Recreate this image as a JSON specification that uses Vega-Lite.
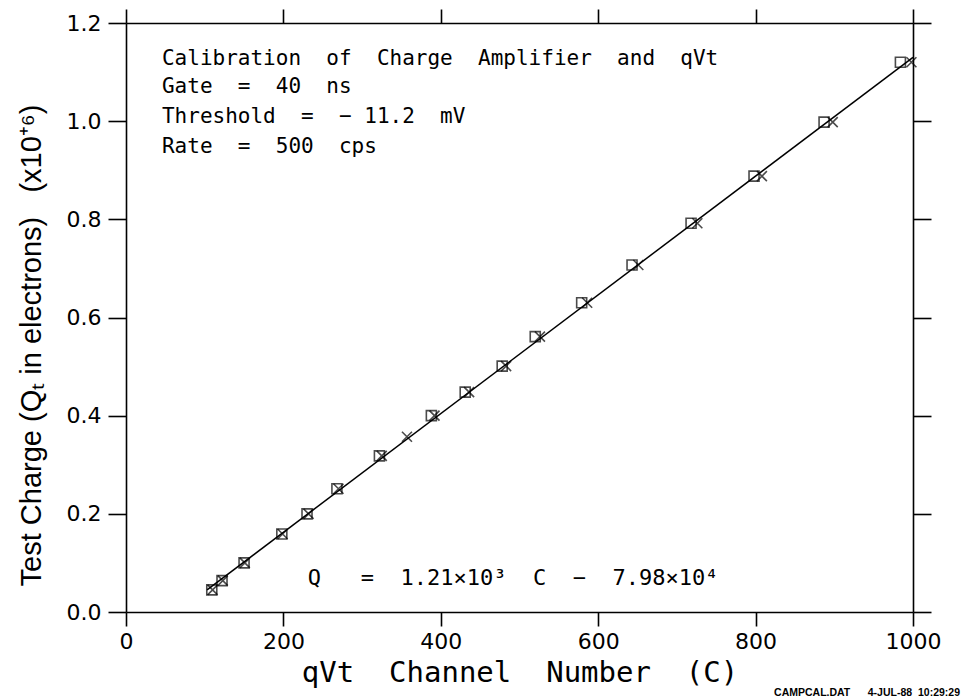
{
  "$schema": "https://vega.github.io/schema/vega-lite/v6.json",
  "width": 787,
  "height": 589,
  "autosize": {"type": "none"},
  "padding": {"left": 126, "top": 23, "right": 51, "bottom": 87},
  "background": "white",
  "config": {
    "view": {"stroke": null},
    "axis": {
      "grid": false,
      "domainColor": "black",
      "domainWidth": 1.6,
      "tickColor": "black",
      "tickWidth": 1.6,
      "labelColor": "black",
      "labelFont": "DejaVu Sans",
      "labelFontSize": 22,
      "titleColor": "black"
    },
    "title": {"color": "black"}
  },
  "title": {
    "text": "CAMPCAL.DAT\u00a0\u00a0\u00a0\u00a0\u00a0\u00a04-JUL-88\u00a0\u00a010:29:29",
    "orient": "bottom",
    "anchor": "end",
    "frame": "group",
    "font": "Liberation Sans",
    "fontSize": 10.5,
    "fontWeight": "bold",
    "dx": 47,
    "offset": 1
  },
  "datasets": {
    "fit": [
      {"C": 103, "Q": 0.045},
      {"C": 1000, "Q": 1.13}
    ],
    "points": [
      {"C": 109, "Q": 0.045, "series": "sq"},
      {"C": 122, "Q": 0.064, "series": "sq"},
      {"C": 150, "Q": 0.100, "series": "sq"},
      {"C": 198, "Q": 0.159, "series": "sq"},
      {"C": 230, "Q": 0.200, "series": "sq"},
      {"C": 268, "Q": 0.251, "series": "sq"},
      {"C": 322, "Q": 0.318, "series": "sq"},
      {"C": 388, "Q": 0.400, "series": "sq"},
      {"C": 431, "Q": 0.448, "series": "sq"},
      {"C": 478, "Q": 0.501, "series": "sq"},
      {"C": 520, "Q": 0.561, "series": "sq"},
      {"C": 579, "Q": 0.630, "series": "sq"},
      {"C": 643, "Q": 0.707, "series": "sq"},
      {"C": 718, "Q": 0.792, "series": "sq"},
      {"C": 798, "Q": 0.888, "series": "sq"},
      {"C": 887, "Q": 0.998, "series": "sq"},
      {"C": 984, "Q": 1.120, "series": "sq"},
      {"C": 110, "Q": 0.045, "series": "x"},
      {"C": 123, "Q": 0.064, "series": "x"},
      {"C": 151, "Q": 0.100, "series": "x"},
      {"C": 199, "Q": 0.159, "series": "x"},
      {"C": 232, "Q": 0.200, "series": "x"},
      {"C": 270, "Q": 0.251, "series": "x"},
      {"C": 325, "Q": 0.318, "series": "x"},
      {"C": 357, "Q": 0.357, "series": "x"},
      {"C": 392, "Q": 0.400, "series": "x"},
      {"C": 436, "Q": 0.448, "series": "x"},
      {"C": 483, "Q": 0.501, "series": "x"},
      {"C": 526, "Q": 0.561, "series": "x"},
      {"C": 586, "Q": 0.630, "series": "x"},
      {"C": 651, "Q": 0.707, "series": "x"},
      {"C": 726, "Q": 0.792, "series": "x"},
      {"C": 808, "Q": 0.888, "series": "x"},
      {"C": 898, "Q": 0.998, "series": "x"},
      {"C": 998, "Q": 1.120, "series": "x"}
    ],
    "notes": [
      {"C": 45.7, "Q": 1.1144, "size": 21, "label": "Calibration\u00a0 of\u00a0 Charge\u00a0 Amplifier\u00a0 and\u00a0 qVt"},
      {"C": 45.7, "Q": 1.0574, "size": 21, "label": "Gate\u00a0 =\u00a0 40\u00a0 ns"},
      {"C": 45.7, "Q": 0.9963, "size": 21, "label": "Threshold\u00a0 =\u00a0 \u2212 11.2\u00a0 mV"},
      {"C": 45.7, "Q": 0.9352, "size": 21, "label": "Rate\u00a0 =\u00a0 500\u00a0 cps"},
      {"C": 231, "Q": 0.055, "size": 22, "label": "Q\u00a0\u00a0 =\u00a0 1.21\u00d710\u00b3\u00a0 C\u00a0 \u2212\u00a0 7.98\u00d710\u2074"}
    ]
  },
  "resolve": {"axis": {"x": "independent", "y": "independent"}},
  "layer": [
    {
      "data": {"name": "fit"},
      "mark": {"type": "line", "color": "black", "strokeWidth": 1.5},
      "encoding": {
        "x": {
          "field": "C", "type": "quantitative",
          "scale": {"domain": [0, 1000], "nice": false, "zero": false},
          "axis": {
            "orient": "bottom",
            "values": [0, 200, 400, 600, 800, 1000],
            "format": "d",
            "tickSize": 14,
            "labelPadding": 5,
            "labelFlush": false,
            "title": "qVt\u00a0 Channel\u00a0 Number\u00a0 (C)",
            "titleFont": "DejaVu Sans Mono",
            "titleFontSize": 29,
            "titleFontWeight": "normal",
            "titlePadding": 6
          }
        },
        "y": {
          "field": "Q", "type": "quantitative",
          "scale": {"domain": [0, 1.2], "nice": false, "zero": false},
          "axis": {
            "orient": "left",
            "values": [0, 0.2, 0.4, 0.6, 0.8, 1.0, 1.2],
            "format": ".1f",
            "tickSize": 18,
            "labelPadding": 7,
            "labelFlush": false,
            "title": "Test Charge (Q\u209c in electrons)\u00a0\u00a0\u00a0(x10\u207a\u2076)",
            "titleFont": "Liberation Sans",
            "titleFontSize": 29,
            "titleFontWeight": "normal",
            "titlePadding": 20,
            "titleY": 322
          }
        }
      }
    },
    {
      "data": {"name": "points"},
      "mark": {"type": "point", "filled": false, "stroke": "black", "strokeWidth": 1.6, "size": 100},
      "encoding": {
        "x": {
          "field": "C", "type": "quantitative",
          "scale": {"domain": [0, 1000], "nice": false, "zero": false},
          "axis": {
            "orient": "top",
            "values": [0, 200, 400, 600, 800, 1000],
            "tickSize": 14,
            "labels": false,
            "title": null
          }
        },
        "y": {
          "field": "Q", "type": "quantitative",
          "scale": {"domain": [0, 1.2], "nice": false, "zero": false},
          "axis": {
            "orient": "right",
            "values": [0, 0.2, 0.4, 0.6, 0.8, 1.0, 1.2],
            "tickSize": 18,
            "labels": false,
            "title": null
          }
        },
        "shape": {
          "field": "series", "type": "nominal",
          "scale": {"domain": ["sq", "x"], "range": ["square", "M-1,-1L1,1M-1,1L1,-1"]},
          "legend": null
        }
      }
    },
    {
      "data": {"name": "notes"},
      "mark": {"type": "text", "align": "left", "baseline": "alphabetic", "font": "DejaVu Sans Mono", "color": "black"},
      "encoding": {
        "x": {"field": "C", "type": "quantitative", "scale": {"domain": [0, 1000], "nice": false, "zero": false}, "axis": null},
        "y": {"field": "Q", "type": "quantitative", "scale": {"domain": [0, 1.2], "nice": false, "zero": false}, "axis": null},
        "size": {"field": "size", "type": "quantitative", "scale": null, "legend": null},
        "text": {"field": "label", "type": "nominal"}
      }
    }
  ]
}
